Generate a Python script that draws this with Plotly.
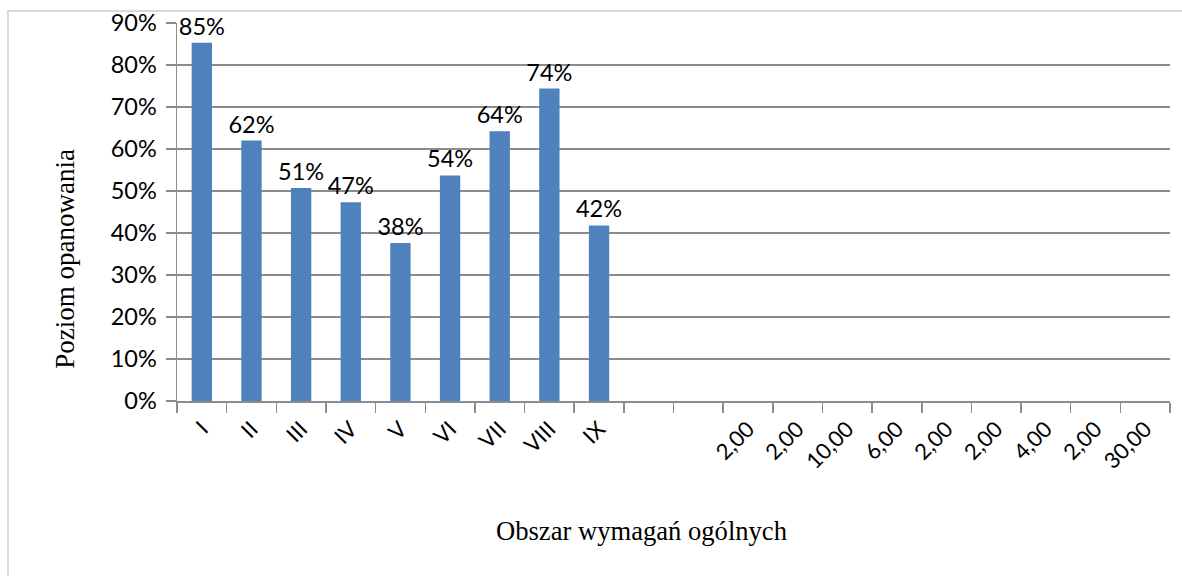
import plotly.graph_objects as go

# Data
categories = ["I", "II", "III", "IV", "V", "VI", "VII", "VIII", "IX",
              "", "",
              "2,00", "2,00", "10,00", "6,00", "2,00", "2,00", "4,00", "2,00", "30,00"]
values = [0.853, 0.620, 0.507, 0.473, 0.376, 0.537, 0.642, 0.744, 0.418]
y_tick_vals = [0, 0.1, 0.2, 0.3, 0.4, 0.5, 0.6, 0.7, 0.8, 0.9]
y_tick_text = ["0%", "10%", "20%", "30%", "40%", "50%", "60%", "70%", "80%", "90%"]
y_title = "Poziom opanowania"
x_title = "Obszar wymagań ogólnych"

positions = list(range(len(categories)))
bar_x = positions[:len(values)]

W, H = 1182, 576
ml, mr, mt, mb = 177, 12, 23, 174.5
pw = W - ml - mr
ph = H - mt - mb

grid_col = "#8c8c8c"
sans = "Lato, Carlito, Calibri, sans-serif"
serif = "Liberation Serif, Times New Roman, serif"

fig = go.Figure()
fig.add_trace(go.Bar(
    x=bar_x, y=values, width=0.41,
    marker=dict(color="#4F81BD", line=dict(width=0)),
    texttemplate="%{y:.0%}", textposition="outside", constraintext="none",
    textfont=dict(family=sans, size=23.5, color="#000000"),
    cliponaxis=False, hoverinfo="skip",
))

fig.update_layout(
    width=W, height=H,
    margin=dict(l=ml, r=mr, t=mt, b=mb, pad=0, autoexpand=False),
    paper_bgcolor="white", plot_bgcolor="white",
    showlegend=False,
    xaxis=dict(
        range=[-0.5, len(categories) - 0.5], automargin=False,
        tickmode="array", tickvals=positions, ticktext=categories,
        tickangle=-45, ticks="", showgrid=False, zeroline=False,
        ticklabelstandoff=5,
        tickfont=dict(family=sans, size=22, color="#000000"),
        showline=True, linecolor=grid_col, linewidth=1.5,
        minor=dict(tickmode="linear", tick0=-0.5, dtick=1, ticks="outside",
                   ticklen=10, tickwidth=1.5, tickcolor=grid_col, showgrid=False),
        fixedrange=True,
    ),
    yaxis=dict(
        range=[0, 0.9], automargin=False,
        tickmode="array", tickvals=y_tick_vals, ticktext=y_tick_text,
        showgrid=True, gridcolor=grid_col, gridwidth=1.5, zeroline=False,
        showline=True, linecolor=grid_col, linewidth=1.5,
        ticks="outside", ticklen=10, tickwidth=1.5, tickcolor=grid_col,
        ticklabelstandoff=4,
        tickfont=dict(family=sans, size=23.5, color="#000000"),
        fixedrange=True,
    ),
    annotations=[
        dict(text=y_title, xref="paper", yref="paper",
             x=(65 - ml) / pw, y=(H - mb - 259) / ph,
             xanchor="center", yanchor="middle", textangle=-90, showarrow=False,
             font=dict(family=serif, size=27, color="#000000")),
        dict(text=x_title, xref="paper", yref="paper",
             x=(641.5 - ml) / pw, y=(H - mb - 532) / ph,
             xanchor="center", yanchor="middle", showarrow=False,
             font=dict(family=serif, size=26.6, color="#000000")),
    ],
    shapes=[
        dict(type="rect", xref="paper", yref="paper",
             x0=(8 - ml) / pw, x1=(W + 20 - ml) / pw,
             y0=(H - mb - (H + 20)) / ph, y1=(H - mb - 11) / ph,
             line=dict(color="#d9d9d9", width=2), fillcolor="rgba(0,0,0,0)",
             layer="below"),
    ],
)

fig.write_html("out.html", config={"displayModeBar": False, "staticPlot": True})

# remove default page margin so the figure sits at the window origin
with open("out.html", "r", encoding="utf-8") as f:
    html = f.read()
html = html.replace("<head>", "<head><style>html,body{margin:0;padding:0;overflow:hidden;}</style>", 1)
with open("out.html", "w", encoding="utf-8") as f:
    f.write(html)
